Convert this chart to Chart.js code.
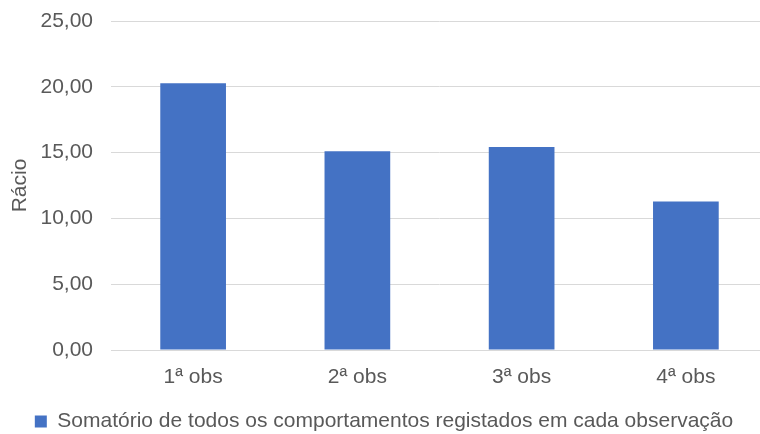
<!DOCTYPE html>
<html lang="pt">
<head>
<meta charset="utf-8">
<script src="https://cdn.jsdelivr.net/npm/chart.js@4"></script>
<style>
  html, body { margin: 0; padding: 0; background: #fff; overflow: hidden; }
  #wrap { width: 770px; height: 442px; }
</style>
</head>
<body>
<div id="wrap"><canvas id="chart" width="770" height="442"></canvas></div>
<script>
const labels = ["1ª obs", "2ª obs", "3ª obs", "4ª obs"];
const values = [20.27, 15.10, 15.43, 11.29];
const seriesName = "Somatório de todos os comportamentos registados em cada observação";
const yTicks = [0, 5, 10, 15, 20, 25];

const fontFamily = "'Liberation Sans', Arial, sans-serif";
const textColor = "#595959";
const gridColor = "#d9d9d9";
const barColor = "#4472c4";

// numbers in pt-PT style: 15,00
const fmt = v => v.toFixed(2).replace(".", ",");

new Chart(document.getElementById("chart"), {
  type: "bar",
  data: {
    labels: labels,
    datasets: [{
      label: seriesName,
      data: values,
      backgroundColor: barColor,
      borderWidth: 0,
      categoryPercentage: 1,
      barPercentage: 0.4
    }]
  },
  options: {
    responsive: false,
    animation: false,
    layout: { padding: { top: 21, right: 2, left: 0, bottom: 0 } },
    plugins: {
      tooltip: { enabled: false },
      legend: {
        position: "bottom",
        align: "center",
        labels: {
          color: textColor,
          font: { family: fontFamily, size: 21 },
          boxWidth: 12,
          boxHeight: 12,
          padding: 3
        }
      }
    },
    scales: {
      x: {
        grid: { display: false, drawTicks: false },
        border: { display: true, color: gridColor, width: 1 },
        ticks: {
          color: textColor,
          font: { family: fontFamily, size: 21 },
          padding: 15,
          maxRotation: 0
        },
        afterFit: s => { s.height = 58; }
      },
      y: {
        min: 0,
        max: 25,
        afterBuildTicks: s => { s.ticks = yTicks.map(v => ({ value: v })); },
        grid: { color: gridColor, lineWidth: 1, drawTicks: false },
        border: { display: false },
        ticks: {
          color: textColor,
          font: { family: fontFamily, size: 21 },
          padding: 18,
          callback: v => fmt(v)
        },
        title: {
          display: true,
          text: "Rácio",
          color: textColor,
          font: { family: fontFamily, size: 21 },
          padding: { top: 8, bottom: 0 }
        },
        afterFit: s => {
          s.width = 111;
          // tick padding shouldn't push the plot area down
          s.paddingTop = 10;
          s.paddingBottom = 10;
        }
      }
    }
  }
});
</script>
</body>
</html>
